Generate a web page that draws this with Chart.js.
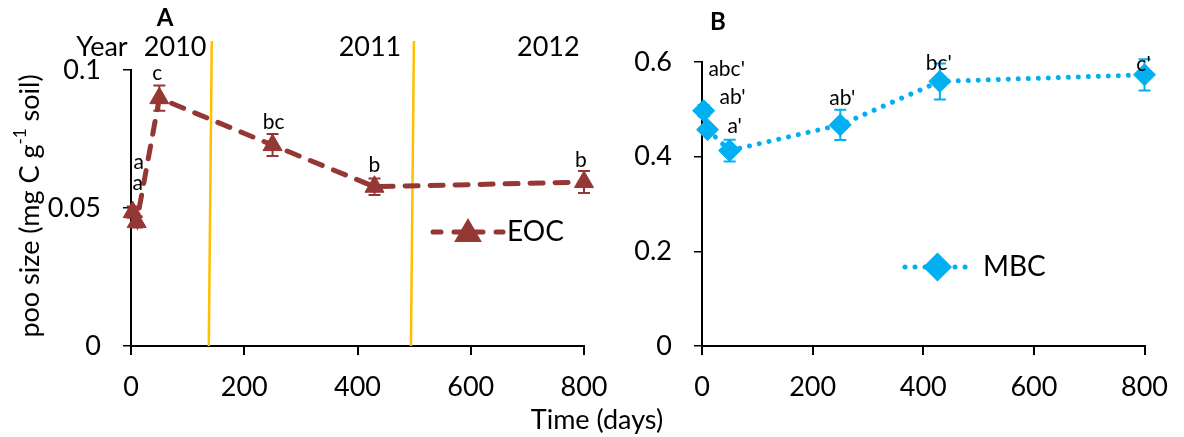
<!DOCTYPE html>
<html>
<head>
<meta charset="utf-8">
<script src="https://cdn.jsdelivr.net/npm/chart.js@4/dist/chart.umd.min.js"></script>
<style>
	html, body { margin: 0; padding: 0; background: #fff; }
	#wrap { position: relative; width: 1184px; height: 437px; }
	#leftBox { position: absolute; left: 0; top: 0; width: 1184px; height: 437px; }
	#rightBox { position: absolute; left: 600px; top: 0; width: 584px; height: 437px; }
</style>
</head>
<body>
<div id="wrap">
	<div id="leftBox"><canvas id="eocChart"></canvas></div>
	<div id="rightBox"><canvas id="mbcChart"></canvas></div>
</div>
<script>
// Dados
const days = [3, 10, 50, 250, 430, 800];
const xTicks = [0, 200, 400, 600, 800];

const eocValues = [0.0485, 0.0449, 0.0898, 0.0728, 0.0577, 0.0594];
const eocErrors = [0.002, 0.002, 0.0046, 0.004, 0.003, 0.004];
const eocLetters = ["a", "a", "c", "bc", "b", "b"];

const mbcValues = [0.497, 0.457, 0.413, 0.467, 0.559, 0.573];
const mbcErrors = [0.012, 0.01, 0.023, 0.032, 0.038, 0.033];
const mbcLetters = ["abc'", "ab'", "a'", "ab'", "bc'", "c'"];

const yearBreaks = [140, 497];
const yearLabels = ["2010", "2011", "2012"];

const FONT = "Lato, 'Liberation Sans', sans-serif";
const EOC_COLOR = "#953735";
const MBC_COLOR = "#00B0F0";

function toPoints(values) {
	return days.map((d, i) => ({ x: d, y: values[i] }));
}

// deslocamentos (px) das letras em relação ao ponto
const eocLetterOffsets = [[6, -50], [1, -39], [-2, -25], [1, -23], [0, -22], [-3, -22]];
const mbcLetterOffsets = [[23, -42], [25, -32], [5, -24], [2, -27], [-1, -18], [-1, -11]];

function axisConfig(yMax, yStep, yWidth) {
	return {
		x: {
			type: "linear",
			min: 0,
			max: 800,
			afterBuildTicks: (s) => { s.ticks = xTicks.map((v) => ({ value: v })); },
			afterFit: (s) => { s.height = 91; },
			ticks: { font: { family: FONT, size: 27 }, color: "#000", padding: 16, maxRotation: 0 },
			grid: { drawOnChartArea: false, tickLength: 9, color: "#000", lineWidth: 2 },
			border: { color: "#000", width: 2 },
		},
		y: {
			min: 0,
			max: yMax,
			afterFit: (s) => { s.width = yWidth; },
			ticks: {
				stepSize: yStep,
				font: { family: FONT, size: 27 },
				color: "#000",
				padding: 22,
				callback: (v) => String(Number(v.toFixed(3))),
			},
			grid: { drawOnChartArea: false, tickLength: 8, color: "#000", lineWidth: 1.5 },
			border: { color: "#000", width: 2 },
		},
	};
}

function drawErrorBars(chart, values, errors, color) {
	const ctx = chart.ctx;
	const xs = chart.scales.x, ys = chart.scales.y;
	ctx.save();
	ctx.strokeStyle = color;
	ctx.lineWidth = 2;
	values.forEach((v, i) => {
		const x = xs.getPixelForValue(days[i]);
		const t = ys.getPixelForValue(v + errors[i]);
		const b = ys.getPixelForValue(v - errors[i]);
		ctx.beginPath();
		ctx.moveTo(x, t); ctx.lineTo(x, b);
		ctx.moveTo(x - 6, t); ctx.lineTo(x + 6, t);
		ctx.moveTo(x - 6, b); ctx.lineTo(x + 6, b);
		ctx.stroke();
	});
	ctx.restore();
}

function drawLetters(chart, values, letters, offsets, size) {
	const ctx = chart.ctx;
	const xs = chart.scales.x, ys = chart.scales.y;
	ctx.save();
	ctx.font = size + "px " + FONT;
	ctx.fillStyle = "#000";
	ctx.textAlign = "center";
	ctx.textBaseline = "middle";
	letters.forEach((l, i) => {
		const x = xs.getPixelForValue(days[i]) + offsets[i][0];
		const y = ys.getPixelForValue(values[i]) + offsets[i][1];
		ctx.fillText(l, x, y);
	});
	ctx.restore();
}

function drawLegend(chart, ds, x1, x2, y, gap, label) {
	const ctx = chart.ctx;
	ctx.save();
	ctx.strokeStyle = ds.borderColor;
	ctx.lineWidth = ds.borderWidth;
	ctx.lineCap = "round";
	ctx.setLineDash(ds.legendDash);
	ctx.beginPath();
	ctx.moveTo(x1, y); ctx.lineTo(x2, y);
	ctx.stroke();
	ctx.setLineDash([]);
	ctx.fillStyle = ds.pointBackgroundColor;
	ctx.strokeStyle = ds.pointBackgroundColor;
	Chart.helpers.drawPoint(ctx, { pointStyle: ds.pointStyle, radius: ds.pointRadius, rotation: 0, borderWidth: 1 }, (x1 + x2) / 2, y + (ds.pointStyle === "triangle" ? 2 : 0));
	ctx.font = "28px " + FONT;
	ctx.fillStyle = "#000";
	ctx.textAlign = "left";
	ctx.textBaseline = "middle";
	ctx.fillText(label, x2 + gap, y);
	ctx.restore();
}

const eocPlugin = {
	id: "eocExtras",
	beforeDatasetsDraw(chart) {
		const ctx = chart.ctx;
		const xs = chart.scales.x, ys = chart.scales.y;
		// linhas dos anos
		ctx.save();
		ctx.strokeStyle = "#FFC000";
		ctx.lineWidth = 2.5;
		yearBreaks.forEach((d) => {
			const x = xs.getPixelForValue(d);
			ctx.beginPath();
			ctx.moveTo(x + 1.5, ys.getPixelForValue(0.1105));
			ctx.lineTo(x - 1.5, ys.getPixelForValue(0));
			ctx.stroke();
		});
		ctx.restore();
		drawErrorBars(chart, eocValues, eocErrors, EOC_COLOR);
	},
	afterDraw(chart) {
		const ctx = chart.ctx;
		const xs = chart.scales.x;
		drawLetters(chart, eocValues, eocLetters, eocLetterOffsets, 21);
		drawLegend(chart, chart.data.datasets[0], 433, 503, 232, 4, "EOC");

		ctx.save();
		ctx.fillStyle = "#000";
		ctx.textAlign = "center";
		ctx.textBaseline = "middle";
		ctx.font = "bold 24px " + FONT;
		ctx.fillText("A", 165, 18);
		ctx.font = "27px " + FONT;
		ctx.fillText("Year", 102, 47);
		const yearDays = [78, 422, 737];
		yearLabels.forEach((y, i) => ctx.fillText(y, xs.getPixelForValue(yearDays[i]), 47));
		ctx.font = "27px " + FONT;
		ctx.fillText("Time (days)", 597, 420);

		// título do eixo y com expoente
		ctx.translate(30, 206);
		ctx.rotate(-Math.PI / 2);
		const partA = "poo size (mg C g";
		const partSup = "-1";
		const partB = " soil)";
		ctx.font = "27px " + FONT;
		const wA = ctx.measureText(partA).width;
		const wB = ctx.measureText(partB).width;
		ctx.font = "17px " + FONT;
		const wS = ctx.measureText(partSup).width;
		let x0 = -(wA + wS + wB) / 2;
		ctx.textAlign = "left";
		ctx.font = "27px " + FONT;
		ctx.fillText(partA, x0, 0);
		ctx.font = "17px " + FONT;
		ctx.fillText(partSup, x0 + wA, -9);
		ctx.font = "27px " + FONT;
		ctx.fillText(partB, x0 + wA + wS, 0);
		ctx.restore();
	},
};

const mbcPlugin = {
	id: "mbcExtras",
	beforeDatasetsDraw(chart) {
		drawErrorBars(chart, mbcValues, mbcErrors, MBC_COLOR);
	},
	afterDraw(chart) {
		const ctx = chart.ctx;
		drawLetters(chart, mbcValues, mbcLetters, mbcLetterOffsets, 21);
		drawLegend(chart, chart.data.datasets[0], 305, 370, 267, 13, "MBC");
		ctx.save();
		ctx.fillStyle = "#000";
		ctx.textAlign = "center";
		ctx.textBaseline = "middle";
		ctx.font = "bold 24px " + FONT;
		ctx.fillText("B", 118, 22);
		ctx.restore();
	},
};

function createChart(elementId, dataset, yMax, yStep, yWidth, padding, plugin) {
	return new Chart(document.getElementById(elementId).getContext("2d"), {
		type: "scatter",
		data: { datasets: [dataset] },
		options: {
			responsive: true,
			maintainAspectRatio: false,
			animation: false,
			layout: { padding: padding },
			plugins: { legend: { display: false }, tooltip: { enabled: false } },
			scales: axisConfig(yMax, yStep, yWidth),
		},
		plugins: [plugin],
	});
}

createChart("eocChart", {
	label: "EOC",
	data: toPoints(eocValues),
	showLine: true,
	clip: false,
	borderColor: EOC_COLOR,
	borderWidth: 5,
	borderDash: [13, 12],
	legendDash: [8, 13],
	borderCapStyle: "round",
	pointStyle: "triangle",
	pointRadius: 11,
	pointBackgroundColor: EOC_COLOR,
	pointBorderColor: EOC_COLOR,
	pointBorderWidth: 1,
}, 0.1, 0.05, 131, { left: 0, right: 600, top: 70, bottom: 0 }, eocPlugin);

createChart("mbcChart", {
	label: "MBC",
	data: toPoints(mbcValues),
	showLine: true,
	clip: false,
	borderColor: MBC_COLOR,
	borderWidth: 5,
	borderDash: [0.01, 10],
	legendDash: [0.01, 10],
	borderCapStyle: "round",
	pointStyle: "rectRot",
	pointRadius: 11,
	pointBackgroundColor: MBC_COLOR,
	pointBorderColor: MBC_COLOR,
	pointBorderWidth: 1,
}, 0.6, 0.2, 102, { left: 0, right: 30, top: 62, bottom: 0 }, mbcPlugin);
</script>
</body>
</html>
